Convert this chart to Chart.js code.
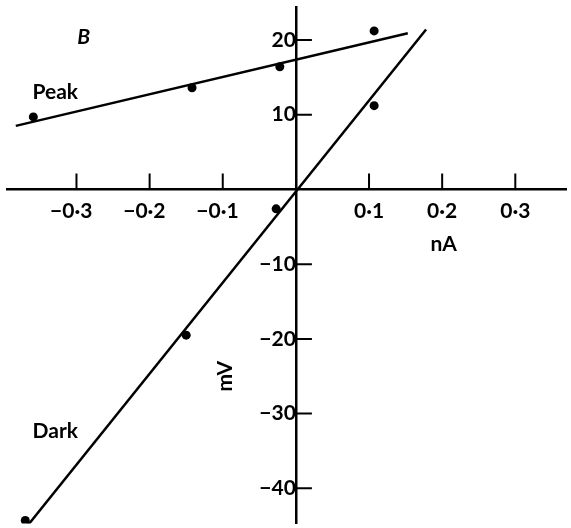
<!DOCTYPE html>
<html>
<head>
<meta charset="utf-8">
<script src="https://cdn.jsdelivr.net/npm/chart.js@4"></script>
<style>
  html, body { margin: 0; padding: 0; background: #fff; }
  #wrap { width: 571px; height: 528px; }
</style>
</head>
<body>
<div id="wrap"><canvas id="chart"></canvas></div>
<script>
// measured points (nA, mV)
const peakCurrent = [-0.359, -0.142, -0.022, 0.107];
const peakVoltage = [9.7, 13.6, 16.4, 21.2];
const darkCurrent = [-0.370, -0.150, -0.027, 0.107];
const darkVoltage = [-44.3, -19.5, -2.6, 11.2];

// fitted lines, end points
const peakFitCurrent = [-0.383, 0.153];
const peakFitVoltage = [8.5, 20.9];
const darkFitCurrent = [-0.367, 0.178];
const darkFitVoltage = [-45.0, 21.4];

const xTicks = [-0.3, -0.2, -0.1, 0.1, 0.2, 0.3];
const yTicks = [-40, -30, -20, -10, 10, 20];

// text placed in data units
const notes = [
  { text: 'B', x: -0.290, y: 20.3, italic: true },
  { text: 'Peak', x: -0.329, y: 13.0 },
  { text: 'Dark', x: -0.329, y: -32.3 },
  { text: 'nA', x: 0.202, y: -7.3 },
  { text: 'mV', x: -0.096, y: -25.0, rotate: true }
];

function pairs (xs, ys) {
  return xs.map((x, i) => ({ x: x, y: ys[i] }));
}

function fmtX (v) {
  const s = Math.abs(v).toFixed(1).replace('.', '\u00b7');
  return v < 0 ? '\u2212' + s + '\u2002' : s;
}

function fmtY (v) {
  return v < 0 ? '\u2212' + Math.abs(v) : String(v);
}

const FONT = 'Lato, "Open Sans", sans-serif';
const SIZE = 21;

// keep the axes from reserving room for their labels
function noPad (s) {
  s.paddingTop = 0;
  s.paddingBottom = 0;
  s.paddingLeft = 0;
  s.paddingRight = 0;
}

const tickMarks = {
  id: 'tickMarks',
  afterDraw (chart) {
    const { ctx, scales: { x, y } } = chart;
    const x0 = x.getPixelForValue(0);
    const y0 = y.getPixelForValue(0);
    ctx.save();
    ctx.strokeStyle = '#000';
    ctx.lineWidth = 2;
    ctx.beginPath();
    xTicks.forEach(v => {
      const px = x.getPixelForValue(v);
      ctx.moveTo(px, y0);
      ctx.lineTo(px, y0 - 16);
    });
    yTicks.forEach(v => {
      const py = y.getPixelForValue(v);
      ctx.moveTo(x0, py);
      ctx.lineTo(x0 + 16, py);
    });
    ctx.stroke();

    ctx.fillStyle = '#000';
    ctx.textAlign = 'center';
    ctx.textBaseline = 'middle';
    notes.forEach(n => {
      const px = x.getPixelForValue(n.x);
      const py = y.getPixelForValue(n.y);
      ctx.font = (n.italic ? 'italic ' : '') + 'bold ' + SIZE + 'px ' + FONT;
      ctx.save();
      ctx.translate(px, py);
      if (n.rotate) ctx.rotate(-Math.PI / 2);
      ctx.fillText(n.text, 0, 0);
      ctx.restore();
    });
    ctx.restore();
  }
};

const ctx = document.getElementById('chart');

new Chart(ctx, {
  type: 'scatter',
  data: {
    datasets: [
      {
        label: 'Peak fit',
        data: pairs(peakFitCurrent, peakFitVoltage),
        showLine: true,
        borderColor: '#000',
        borderWidth: 2.5,
        pointRadius: 0
      },
      {
        label: 'Dark fit',
        data: pairs(darkFitCurrent, darkFitVoltage),
        showLine: true,
        borderColor: '#000',
        borderWidth: 2.5,
        pointRadius: 0
      },
      {
        label: 'Peak',
        data: pairs(peakCurrent, peakVoltage),
        backgroundColor: '#000',
        borderWidth: 0,
        pointRadius: 4.5
      },
      {
        label: 'Dark',
        data: pairs(darkCurrent, darkVoltage),
        backgroundColor: '#000',
        borderWidth: 0,
        pointRadius: 4.5
      }
    ]
  },
  options: {
    responsive: true,
    maintainAspectRatio: false,
    animation: false,
    layout: { padding: { left: 7, top: 7, right: 0, bottom: 0 } },
    plugins: {
      legend: { display: false },
      tooltip: { enabled: false }
    },
    scales: {
      x: {
        type: 'linear',
        position: { y: 0 },
        min: -0.395,
        max: 0.370,
        afterBuildTicks: s => { s.ticks = xTicks.map(v => ({ value: v })); },
        afterFit: noPad,
        grid: { display: false, drawTicks: false },
        border: { display: true, color: '#000', width: 2.5 },
        ticks: {
          color: '#000',
          font: { family: FONT, size: SIZE, weight: 'bold' },
          padding: 9,
          maxRotation: 0,
          autoSkip: false,
          callback: v => fmtX(v)
        }
      },
      y: {
        type: 'linear',
        position: { x: 0 },
        min: -44.7,
        max: 24.4,
        afterBuildTicks: s => { s.ticks = yTicks.map(v => ({ value: v })); },
        afterFit: noPad,
        grid: { display: false, drawTicks: false },
        border: { display: true, color: '#000', width: 2.5 },
        ticks: {
          color: '#000',
          font: { family: FONT, size: SIZE, weight: 'bold' },
          padding: 10,
          autoSkip: false,
          callback: v => fmtY(v)
        }
      }
    }
  },
  plugins: [tickMarks]
});
</script>
</body>
</html>
